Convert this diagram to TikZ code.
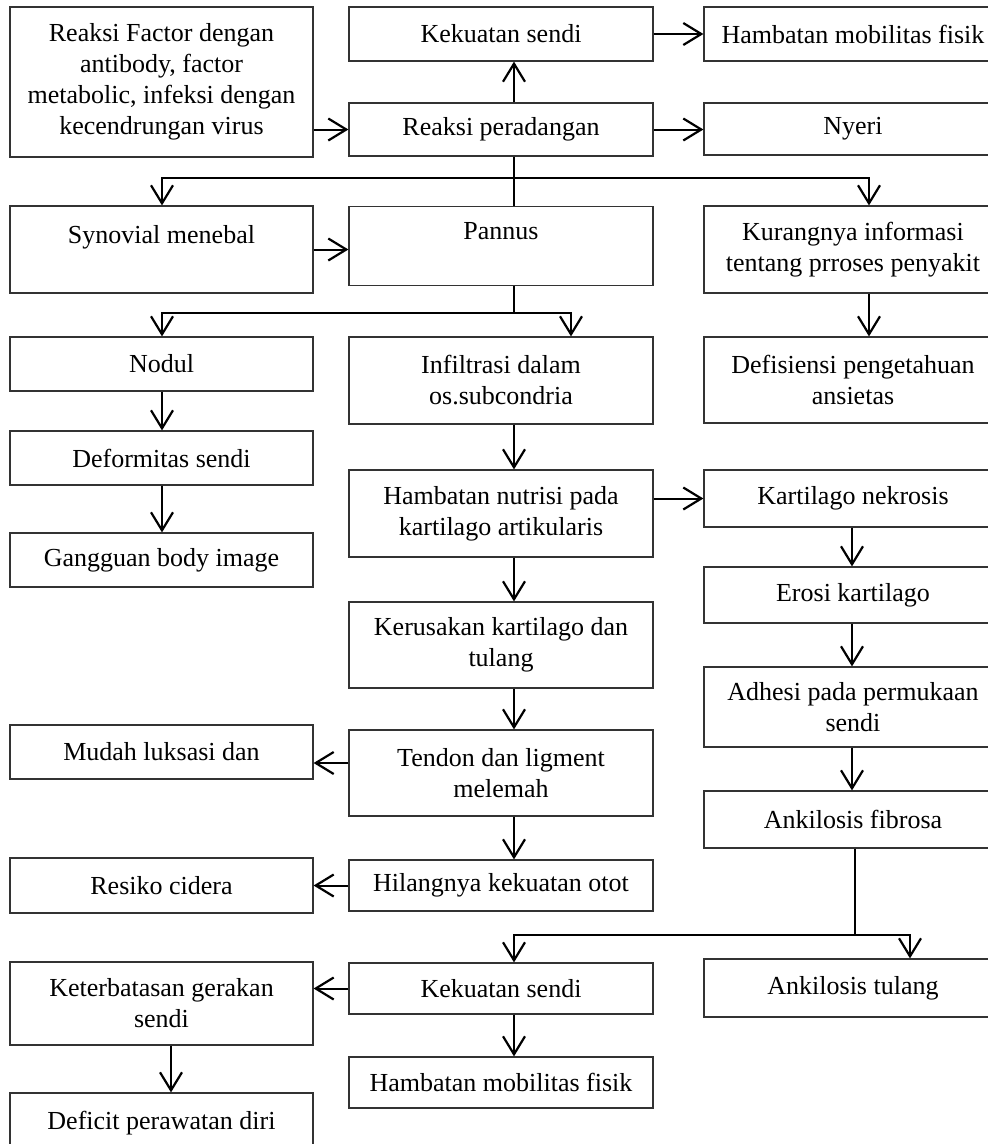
\documentclass[tikz,border=0pt]{standalone}
\usepackage{fontspec}
\setmainfont{Liberation Serif}
\usetikzlibrary{arrows.meta,calc}
\begin{document}
\begin{tikzpicture}[x=1pt,y=-1pt,
  box/.style={draw=black!80,line width=1.2pt,inner sep=0pt,align=center,
    font=\fontsize{26}{31}\selectfont},
  lbox/.style={box,minimum width=303pt},
  mbox/.style={box,minimum width=304pt},
  rbox/.style={box,minimum width=298pt},
  arr/.style={line width=2pt,-{Straight Barb[length=18pt,width=22pt,line width=2.2pt]}},
  ln/.style={line width=2pt}]
\fill[white] (0,0) rectangle (988,1144);
\useasboundingbox (0,0) rectangle (988,1144);
\clip (0,0) rectangle (988,1144);
% column x
\coordinate (xa) at (162,0);
\coordinate (xk) at (171,0);
\coordinate (xm) at (514,0);
\coordinate (xb) at (571,0);
\coordinate (xn) at (852,0);
\coordinate (xf) at (855,0);
\coordinate (xr) at (869,0);
\coordinate (xt) at (910,0);
% nodes
\node[lbox,minimum height=150pt] (src) at (161.5,82) {Reaksi Factor dengan\\antibody, factor\\metabolic, infeksi dengan\\kecendrungan virus};
\node[mbox,minimum height=54pt] (ks1) at (501,34) {Kekuatan sendi};
\node[rbox,minimum height=54pt] (hm1) at (853,34) {Hambatan mobilitas fisik};
\node[mbox,minimum height=53pt] (rp) at (501,129.5) {Reaksi peradangan};
\node[rbox,minimum height=52pt] (nyeri) at (853,129) {Nyeri};
\node[lbox,minimum height=87pt] (syn) at (161.5,249.5) {Synovial menebal\\\mbox{}};
\node[mbox,minimum height=79pt] (pannus) at (501,246) {Pannus\\\mbox{}};
\node[rbox,minimum height=87pt] (kur) at (853,249.5) {Kurangnya informasi\\tentang prroses penyakit};
\node[lbox,minimum height=54pt] (nodul) at (161.5,364) {Nodul};
\node[mbox,minimum height=87pt] (inf) at (501,380.5) {Infiltrasi dalam\\os.subcondria};
\node[rbox,minimum height=86pt] (def) at (853,380) {Defisiensi pengetahuan\\ansietas};
\node[lbox,minimum height=54pt] (deform) at (161.5,458) {Deformitas sendi};
\node[mbox,minimum height=87pt] (hn) at (501,513.5) {Hambatan nutrisi pada\\kartilago artikularis};
\node[rbox,minimum height=57pt] (kn) at (853,498.5) {Kartilago nekrosis};
\node[lbox,minimum height=54pt] (gbi) at (161.5,560) {Gangguan body image};
\node[rbox,minimum height=56pt] (erosi) at (853,595) {Erosi kartilago};
\node[mbox,minimum height=86pt] (kerus) at (501,645) {Kerusakan kartilago dan\\tulang};
\node[rbox,minimum height=80pt] (adhesi) at (853,707) {Adhesi pada permukaan\\sendi};
\node[mbox,minimum height=86pt] (tendon) at (501,773) {Tendon dan ligment\\melemah};
\node[lbox,minimum height=54pt] (mudah) at (161.5,752) {Mudah luksasi dan};
\node[rbox,minimum height=57pt] (ankf) at (853,819.5) {Ankilosis fibrosa};
\node[mbox,minimum height=51pt] (hil) at (501,885.5) {Hilangnya kekuatan otot};
\node[lbox,minimum height=55pt] (resiko) at (161.5,885.5) {Resiko cidera};
\node[mbox,minimum height=51pt] (ks2) at (501,988.5) {Kekuatan sendi};
\node[rbox,minimum height=58pt] (ankt) at (853,988) {Ankilosis tulang};
\node[lbox,minimum height=83pt] (ket) at (161.5,1003.5) {Keterbatasan gerakan\\sendi};
\node[mbox,minimum height=51pt] (hm2) at (501,1082.5) {Hambatan mobilitas fisik};
\node[lbox,minimum height=60pt] (deficit) at (161.5,1123) {Deficit perawatan diri};
% connectors
\draw[arr] (src.east |- rp.center) -- (rp.west);
\draw[arr] (ks1.east) -- (hm1.west);
\draw[arr] (rp.east) -- (nyeri.west |- rp.east);
\draw[arr] (rp.north -| xm) -- (ks1.south -| xm);
\draw[ln] (rp.south -| xm) -- (pannus.north -| xm);
\coordinate (j1) at (514,178);
\draw[arr] (j1) -| (syn.north -| xa);
\draw[arr] (j1) -| (kur.north -| xr);
\draw[arr] (syn.east) -- (syn.east -| pannus.west);
\coordinate (j2) at (514,313);
\draw[ln] (pannus.south -| xm) -- (j2);
\draw[arr] (j2) -| (nodul.north -| xa);
\draw[arr] (j2) -| (inf.north -| xb);
\draw[arr] (kur.south -| xr) -- (def.north -| xr);
\draw[arr] (nodul.south -| xa) -- (deform.north -| xa);
\draw[arr] (deform.south -| xa) -- (gbi.north -| xa);
\draw[arr] (inf.south -| xm) -- (hn.north -| xm);
\draw[arr] (hn.east |- kn.center) -- (kn.west);
\draw[arr] (kn.south -| xn) -- (erosi.north -| xn);
\draw[arr] (erosi.south -| xn) -- (adhesi.north -| xn);
\draw[arr] (adhesi.south -| xn) -- (ankf.north -| xn);
\draw[arr] (hn.south -| xm) -- (kerus.north -| xm);
\draw[arr] (kerus.south -| xm) -- (tendon.north -| xm);
\coordinate (yt) at (0,763);
\draw[arr] (tendon.west |- yt) -- (mudah.east |- yt);
\draw[arr] (tendon.south -| xm) -- (hil.north -| xm);
\draw[arr] (hil.west) -- (resiko.east |- hil.west);
\coordinate (j3) at (855,935);
\draw[ln] (ankf.south -| xf) -- (j3);
\draw[arr] (j3) -| (ks2.north -| xm);
\draw[arr] (j3) -| (ankt.north -| xt);
\draw[arr] (ks2.west) -- (ket.east |- ks2.west);
\draw[arr] (ks2.south -| xm) -- (hm2.north -| xm);
\draw[arr] (ket.south -| xk) -- (deficit.north -| xk);
\end{tikzpicture}
\end{document}
